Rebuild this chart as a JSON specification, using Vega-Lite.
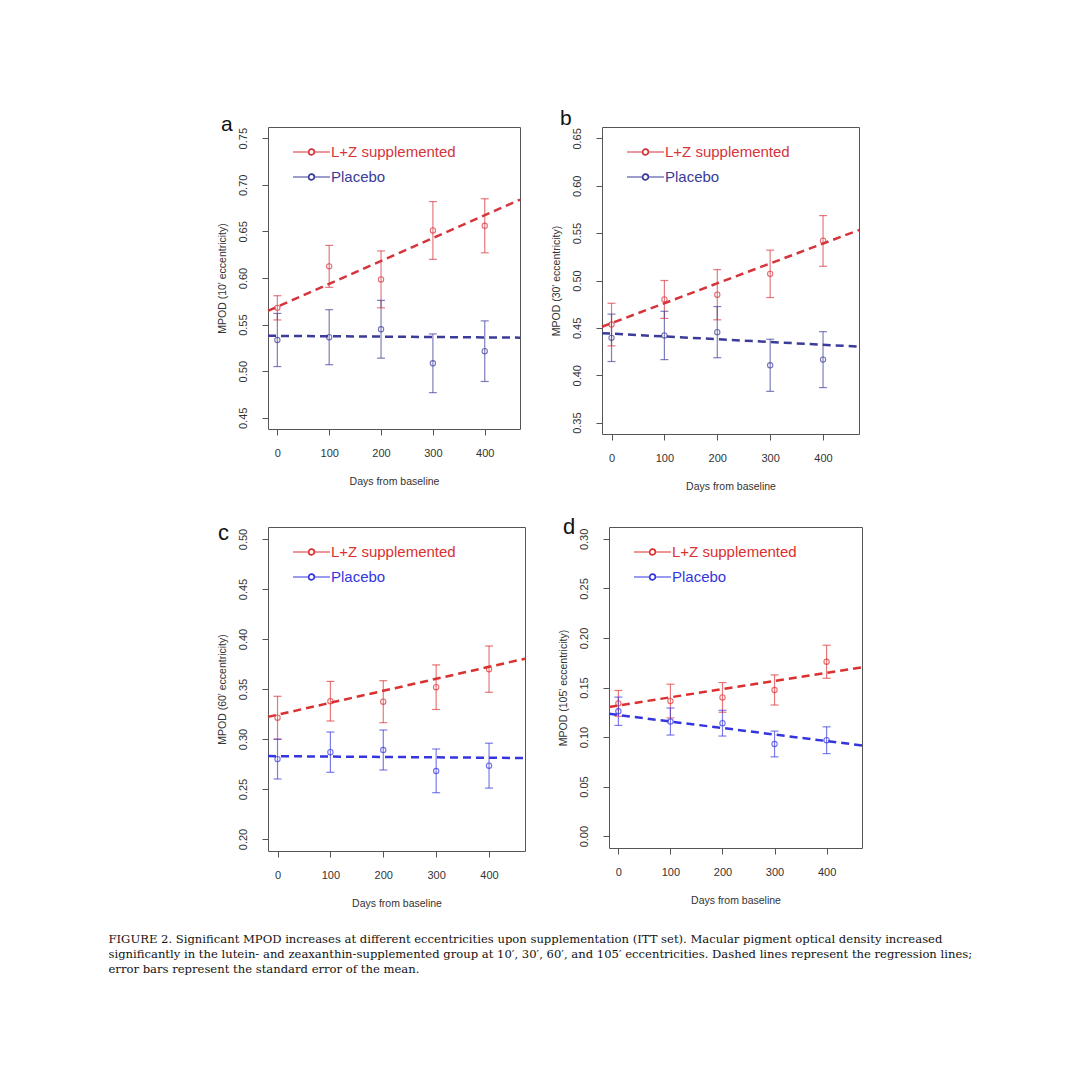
{
  "$schema": "https://vega.github.io/schema/vega-lite/v6.json",
  "background": "white",
  "padding": {"left": 108, "top": 107, "right": 10, "bottom": 10},
  "datasets": {
    "pts": [
      {"panel": "a", "group": "L+Z supplemented", "day": 0, "mean": 0.568, "lo": 0.555, "hi": 0.581},
      {"panel": "a", "group": "L+Z supplemented", "day": 100, "mean": 0.6125, "lo": 0.590, "hi": 0.635},
      {"panel": "a", "group": "L+Z supplemented", "day": 200, "mean": 0.5985, "lo": 0.568, "hi": 0.629},
      {"panel": "a", "group": "L+Z supplemented", "day": 300, "mean": 0.651, "lo": 0.620, "hi": 0.682},
      {"panel": "a", "group": "L+Z supplemented", "day": 400, "mean": 0.656, "lo": 0.627, "hi": 0.685},
      {"panel": "a", "group": "Placebo", "day": 0, "mean": 0.5335, "lo": 0.505, "hi": 0.562},
      {"panel": "a", "group": "Placebo", "day": 100, "mean": 0.5365, "lo": 0.507, "hi": 0.566},
      {"panel": "a", "group": "Placebo", "day": 200, "mean": 0.545, "lo": 0.514, "hi": 0.576},
      {"panel": "a", "group": "Placebo", "day": 300, "mean": 0.5085, "lo": 0.477, "hi": 0.540},
      {"panel": "a", "group": "Placebo", "day": 400, "mean": 0.5215, "lo": 0.489, "hi": 0.554},
      {"panel": "b", "group": "L+Z supplemented", "day": 0, "mean": 0.4535, "lo": 0.431, "hi": 0.476},
      {"panel": "b", "group": "L+Z supplemented", "day": 100, "mean": 0.480, "lo": 0.460, "hi": 0.500},
      {"panel": "b", "group": "L+Z supplemented", "day": 200, "mean": 0.485, "lo": 0.4585, "hi": 0.5115},
      {"panel": "b", "group": "L+Z supplemented", "day": 300, "mean": 0.507, "lo": 0.482, "hi": 0.532},
      {"panel": "b", "group": "L+Z supplemented", "day": 400, "mean": 0.542, "lo": 0.515, "hi": 0.5685},
      {"panel": "b", "group": "Placebo", "day": 0, "mean": 0.4395, "lo": 0.4145, "hi": 0.4645},
      {"panel": "b", "group": "Placebo", "day": 100, "mean": 0.442, "lo": 0.4165, "hi": 0.4675},
      {"panel": "b", "group": "Placebo", "day": 200, "mean": 0.4455, "lo": 0.4185, "hi": 0.4725},
      {"panel": "b", "group": "Placebo", "day": 300, "mean": 0.4105, "lo": 0.383, "hi": 0.438},
      {"panel": "b", "group": "Placebo", "day": 400, "mean": 0.4165, "lo": 0.387, "hi": 0.446},
      {"panel": "c", "group": "L+Z supplemented", "day": 0, "mean": 0.3213, "lo": 0.2998, "hi": 0.3427},
      {"panel": "c", "group": "L+Z supplemented", "day": 100, "mean": 0.3378, "lo": 0.318, "hi": 0.3576},
      {"panel": "c", "group": "L+Z supplemented", "day": 200, "mean": 0.3373, "lo": 0.3163, "hi": 0.3583},
      {"panel": "c", "group": "L+Z supplemented", "day": 300, "mean": 0.3518, "lo": 0.3295, "hi": 0.3741},
      {"panel": "c", "group": "L+Z supplemented", "day": 400, "mean": 0.3698, "lo": 0.3467, "hi": 0.393},
      {"panel": "c", "group": "Placebo", "day": 0, "mean": 0.2799, "lo": 0.260, "hi": 0.2998},
      {"panel": "c", "group": "Placebo", "day": 100, "mean": 0.2868, "lo": 0.2667, "hi": 0.307},
      {"panel": "c", "group": "Placebo", "day": 200, "mean": 0.289, "lo": 0.269, "hi": 0.309},
      {"panel": "c", "group": "Placebo", "day": 300, "mean": 0.268, "lo": 0.2463, "hi": 0.290},
      {"panel": "c", "group": "Placebo", "day": 400, "mean": 0.2733, "lo": 0.2509, "hi": 0.2958},
      {"panel": "d", "group": "L+Z supplemented", "day": 0, "mean": 0.134, "lo": 0.121, "hi": 0.147},
      {"panel": "d", "group": "L+Z supplemented", "day": 100, "mean": 0.1363, "lo": 0.1193, "hi": 0.1533},
      {"panel": "d", "group": "L+Z supplemented", "day": 200, "mean": 0.140, "lo": 0.125, "hi": 0.155},
      {"panel": "d", "group": "L+Z supplemented", "day": 300, "mean": 0.1475, "lo": 0.1323, "hi": 0.1627},
      {"panel": "d", "group": "L+Z supplemented", "day": 400, "mean": 0.176, "lo": 0.1593, "hi": 0.1927},
      {"panel": "d", "group": "Placebo", "day": 0, "mean": 0.126, "lo": 0.1117, "hi": 0.1403},
      {"panel": "d", "group": "Placebo", "day": 100, "mean": 0.1157, "lo": 0.102, "hi": 0.1293},
      {"panel": "d", "group": "Placebo", "day": 200, "mean": 0.114, "lo": 0.101, "hi": 0.127},
      {"panel": "d", "group": "Placebo", "day": 300, "mean": 0.093, "lo": 0.080, "hi": 0.106},
      {"panel": "d", "group": "Placebo", "day": 400, "mean": 0.0968, "lo": 0.0833, "hi": 0.1103}
    ],
    "lines": [
      {"panel": "a", "group": "L+Z supplemented", "day": -18, "value": 0.5647},
      {"panel": "a", "group": "L+Z supplemented", "day": 468, "value": 0.684},
      {"panel": "a", "group": "Placebo", "day": -18, "value": 0.538},
      {"panel": "a", "group": "Placebo", "day": 468, "value": 0.536},
      {"panel": "b", "group": "L+Z supplemented", "day": -18, "value": 0.4512},
      {"panel": "b", "group": "L+Z supplemented", "day": 468, "value": 0.5533},
      {"panel": "b", "group": "Placebo", "day": -18, "value": 0.4444},
      {"panel": "b", "group": "Placebo", "day": 468, "value": 0.4302},
      {"panel": "c", "group": "L+Z supplemented", "day": -18, "value": 0.3221},
      {"panel": "c", "group": "L+Z supplemented", "day": 468, "value": 0.3803},
      {"panel": "c", "group": "Placebo", "day": -18, "value": 0.2829},
      {"panel": "c", "group": "Placebo", "day": 468, "value": 0.281},
      {"panel": "d", "group": "L+Z supplemented", "day": -18, "value": 0.1304},
      {"panel": "d", "group": "L+Z supplemented", "day": 468, "value": 0.1704},
      {"panel": "d", "group": "Placebo", "day": -18, "value": 0.1234},
      {"panel": "d", "group": "Placebo", "day": 468, "value": 0.0915}
    ]
  },
  "config": {
    "font": "Liberation Sans",
    "view": {"stroke": "#555", "strokeWidth": 1},
    "axis": {"domain": false, "grid": false, "ticks": true, "tickSize": 6, "tickColor": "#555", "labelFont": "Liberation Sans", "labelFontSize": 11, "labelColor": "#333", "titleFont": "Liberation Sans", "titleFontSize": 10.5, "titleFontWeight": "normal", "titleColor": "#333"},
    "axisX": {"labelPadding": 12, "titlePadding": 18},
    "axisY": {"labelAngle": 270, "labelAlign": "center", "labelBaseline": "bottom", "labelPadding": 14, "titlePadding": 10},
    "legend": {"orient": "top-left", "offset": 15, "padding": 0, "symbolType": "M0,0L1.66,0M2.34,0L4,0M2.34,0A0.34,0.34,0,1,1,1.66,0A0.34,0.34,0,1,1,2.34,0M2.28,0A0.28,0.28,0,1,0,1.72,0A0.28,0.28,0,1,0,2.28,0", "symbolSize": 342, "symbolStrokeWidth": 1.1, "symbolOpacity": 1, "symbolFillColor": "white", "symbolDash": [], "labelFont": "Liberation Sans", "labelFontSize": 15, "labelOffset": 28, "rowPadding": 7},
    "title": {"font": "Liberation Sans", "fontWeight": "normal"}
  },
  "title": {
    "text": [
      "FIGURE 2.  Significant MPOD increases at different eccentricities upon supplementation (ITT set). Macular pigment optical density increased",
      "significantly in the lutein- and zeaxanthin-supplemented group at 10′, 30′, 60′, and 105′ eccentricities. Dashed lines represent the regression lines;",
      "error bars represent the standard error of the mean."
    ],
    "orient": "bottom", "anchor": "start", "frame": "bounds", "dx": -108, "offset": 25,
    "font": "DejaVu Serif", "fontSize": 11.6, "fontWeight": "normal", "lineHeight": 15, "color": "#111"
  },
  "vconcat": [
    {
      "hconcat": [
        {
          "width": 252, "height": 302,
          "title": {"text": "a", "anchor": "start", "frame": "group", "dx": -47, "offset": -25, "baseline": "alphabetic", "fontSize": 21, "color": "#111"},
          "layer": [
            {"data": {"name": "pts"}, "transform": [{"filter": "datum.panel == 'a'"}], "mark": {"type": "rule", "strokeWidth": 1.2, "opacity": 0.65},
             "encoding": {
               "x": {"field": "day", "type": "quantitative", "scale": {"domain": [-18, 468], "nice": false, "zero": false}, "axis": {"values": [0, 100, 200, 300, 400], "title": "Days from baseline"}},
               "y": {"field": "lo", "type": "quantitative", "scale": {"domain": [0.438, 0.762], "nice": false, "zero": false}, "axis": {"values": [0.45, 0.5, 0.55, 0.6, 0.65, 0.7, 0.75], "format": ".2f", "title": "MPOD (10' eccentricity)"}},
               "y2": {"field": "hi"},
               "color": {"field": "group", "type": "nominal", "scale": {"domain": ["L+Z supplemented", "Placebo"], "range": ["#d6333b", "#3b3b9a"]}}}},
            {"data": {"name": "pts"}, "transform": [{"filter": "datum.panel == 'a'"}], "mark": {"type": "tick", "orient": "horizontal", "size": 8, "thickness": 1.2, "opacity": 0.65},
             "encoding": {"x": {"field": "day", "type": "quantitative", "title": "Days from baseline"}, "y": {"field": "lo", "type": "quantitative", "title": "MPOD (10' eccentricity)"}, "color": {"field": "group", "type": "nominal"}}},
            {"data": {"name": "pts"}, "transform": [{"filter": "datum.panel == 'a'"}], "mark": {"type": "tick", "orient": "horizontal", "size": 8, "thickness": 1.2, "opacity": 0.65},
             "encoding": {"x": {"field": "day", "type": "quantitative", "title": "Days from baseline"}, "y": {"field": "hi", "type": "quantitative", "title": "MPOD (10' eccentricity)"}, "color": {"field": "group", "type": "nominal"}}},
            {"data": {"name": "lines"}, "transform": [{"filter": "datum.panel == 'a'"}], "mark": {"type": "line", "strokeDash": [8, 5], "strokeWidth": 2.5},
             "encoding": {"x": {"field": "day", "type": "quantitative", "title": "Days from baseline"}, "y": {"field": "value", "type": "quantitative", "title": "MPOD (10' eccentricity)"}, "color": {"field": "group", "type": "nominal"}}},
            {"data": {"name": "pts"}, "transform": [{"filter": "datum.panel == 'a'"}], "mark": {"type": "point", "shape": "circle", "filled": false, "size": 28, "strokeWidth": 1.1},
             "encoding": {"x": {"field": "day", "type": "quantitative", "title": "Days from baseline"}, "y": {"field": "mean", "type": "quantitative", "title": "MPOD (10' eccentricity)"},
               "color": {"field": "group", "type": "nominal", "legend": {"title": null, "labelColor": {"expr": "datum.value == 'Placebo' ? '#3b3b9a' : '#d6333b'"}}}}}
          ]
        },
        {
          "width": 257, "height": 307,
          "title": {"text": "b", "anchor": "start", "frame": "group", "dx": -42, "offset": -19, "baseline": "alphabetic", "fontSize": 21, "color": "#111"},
          "layer": [
            {"data": {"name": "pts"}, "transform": [{"filter": "datum.panel == 'b'"}], "mark": {"type": "rule", "strokeWidth": 1.2, "opacity": 0.65},
             "encoding": {
               "x": {"field": "day", "type": "quantitative", "scale": {"domain": [-18, 468], "nice": false, "zero": false}, "axis": {"values": [0, 100, 200, 300, 400], "title": "Days from baseline"}},
               "y": {"field": "lo", "type": "quantitative", "scale": {"domain": [0.338, 0.662], "nice": false, "zero": false}, "axis": {"values": [0.35, 0.4, 0.45, 0.5, 0.55, 0.6, 0.65], "format": ".2f", "title": "MPOD (30' eccentricity)"}},
               "y2": {"field": "hi"},
               "color": {"field": "group", "type": "nominal", "scale": {"domain": ["L+Z supplemented", "Placebo"], "range": ["#d6333b", "#3b3b9a"]}}}},
            {"data": {"name": "pts"}, "transform": [{"filter": "datum.panel == 'b'"}], "mark": {"type": "tick", "orient": "horizontal", "size": 8, "thickness": 1.2, "opacity": 0.65},
             "encoding": {"x": {"field": "day", "type": "quantitative", "title": "Days from baseline"}, "y": {"field": "lo", "type": "quantitative", "title": "MPOD (30' eccentricity)"}, "color": {"field": "group", "type": "nominal"}}},
            {"data": {"name": "pts"}, "transform": [{"filter": "datum.panel == 'b'"}], "mark": {"type": "tick", "orient": "horizontal", "size": 8, "thickness": 1.2, "opacity": 0.65},
             "encoding": {"x": {"field": "day", "type": "quantitative", "title": "Days from baseline"}, "y": {"field": "hi", "type": "quantitative", "title": "MPOD (30' eccentricity)"}, "color": {"field": "group", "type": "nominal"}}},
            {"data": {"name": "lines"}, "transform": [{"filter": "datum.panel == 'b'"}], "mark": {"type": "line", "strokeDash": [8, 5], "strokeWidth": 2.5},
             "encoding": {"x": {"field": "day", "type": "quantitative", "title": "Days from baseline"}, "y": {"field": "value", "type": "quantitative", "title": "MPOD (30' eccentricity)"}, "color": {"field": "group", "type": "nominal"}}},
            {"data": {"name": "pts"}, "transform": [{"filter": "datum.panel == 'b'"}], "mark": {"type": "point", "shape": "circle", "filled": false, "size": 28, "strokeWidth": 1.1},
             "encoding": {"x": {"field": "day", "type": "quantitative", "title": "Days from baseline"}, "y": {"field": "mean", "type": "quantitative", "title": "MPOD (30' eccentricity)"},
               "color": {"field": "group", "type": "nominal", "legend": {"title": null, "labelColor": {"expr": "datum.value == 'Placebo' ? '#3b3b9a' : '#d6333b'"}}}}}
          ]
        }
      ],
      "spacing": 24,
      "resolve": {"scale": {"x": "independent", "y": "independent", "color": "independent"}, "legend": {"color": "independent"}}
    },
    {
      "hconcat": [
        {
          "width": 257, "height": 324,
          "title": {"text": "c", "anchor": "start", "frame": "group", "dx": -50, "offset": -35, "baseline": "alphabetic", "fontSize": 22, "color": "#111"},
          "layer": [
            {"data": {"name": "pts"}, "transform": [{"filter": "datum.panel == 'c'"}], "mark": {"type": "rule", "strokeWidth": 1.2, "opacity": 0.65},
             "encoding": {
               "x": {"field": "day", "type": "quantitative", "scale": {"domain": [-18, 468], "nice": false, "zero": false}, "axis": {"values": [0, 100, 200, 300, 400], "title": "Days from baseline"}},
               "y": {"field": "lo", "type": "quantitative", "scale": {"domain": [0.188, 0.512], "nice": false, "zero": false}, "axis": {"values": [0.2, 0.25, 0.3, 0.35, 0.4, 0.45, 0.5], "format": ".2f", "title": "MPOD (60' eccentricity)"}},
               "y2": {"field": "hi"},
               "color": {"field": "group", "type": "nominal", "scale": {"domain": ["L+Z supplemented", "Placebo"], "range": ["#db3030", "#3535e0"]}}}},
            {"data": {"name": "pts"}, "transform": [{"filter": "datum.panel == 'c'"}], "mark": {"type": "tick", "orient": "horizontal", "size": 8, "thickness": 1.2, "opacity": 0.65},
             "encoding": {"x": {"field": "day", "type": "quantitative", "title": "Days from baseline"}, "y": {"field": "lo", "type": "quantitative", "title": "MPOD (60' eccentricity)"}, "color": {"field": "group", "type": "nominal"}}},
            {"data": {"name": "pts"}, "transform": [{"filter": "datum.panel == 'c'"}], "mark": {"type": "tick", "orient": "horizontal", "size": 8, "thickness": 1.2, "opacity": 0.65},
             "encoding": {"x": {"field": "day", "type": "quantitative", "title": "Days from baseline"}, "y": {"field": "hi", "type": "quantitative", "title": "MPOD (60' eccentricity)"}, "color": {"field": "group", "type": "nominal"}}},
            {"data": {"name": "lines"}, "transform": [{"filter": "datum.panel == 'c'"}], "mark": {"type": "line", "strokeDash": [8, 5], "strokeWidth": 2.5},
             "encoding": {"x": {"field": "day", "type": "quantitative", "title": "Days from baseline"}, "y": {"field": "value", "type": "quantitative", "title": "MPOD (60' eccentricity)"}, "color": {"field": "group", "type": "nominal"}}},
            {"data": {"name": "pts"}, "transform": [{"filter": "datum.panel == 'c'"}], "mark": {"type": "point", "shape": "circle", "filled": false, "size": 28, "strokeWidth": 1.1},
             "encoding": {"x": {"field": "day", "type": "quantitative", "title": "Days from baseline"}, "y": {"field": "mean", "type": "quantitative", "title": "MPOD (60' eccentricity)"},
               "color": {"field": "group", "type": "nominal", "legend": {"title": null, "labelColor": {"expr": "datum.value == 'Placebo' ? '#3535e0' : '#db3030'"}}}}}
          ]
        },
        {
          "width": 253, "height": 321,
          "title": {"text": "d", "anchor": "start", "frame": "group", "dx": -46, "offset": -29, "baseline": "alphabetic", "fontSize": 22, "color": "#111"},
          "layer": [
            {"data": {"name": "pts"}, "transform": [{"filter": "datum.panel == 'd'"}], "mark": {"type": "rule", "strokeWidth": 1.2, "opacity": 0.65},
             "encoding": {
               "x": {"field": "day", "type": "quantitative", "scale": {"domain": [-18, 468], "nice": false, "zero": false}, "axis": {"values": [0, 100, 200, 300, 400], "title": "Days from baseline"}},
               "y": {"field": "lo", "type": "quantitative", "scale": {"domain": [-0.012, 0.312], "nice": false, "zero": false}, "axis": {"values": [0, 0.05, 0.1, 0.15, 0.2, 0.25, 0.3], "format": ".2f", "title": "MPOD (105' eccentricity)"}},
               "y2": {"field": "hi"},
               "color": {"field": "group", "type": "nominal", "scale": {"domain": ["L+Z supplemented", "Placebo"], "range": ["#db3030", "#3535e0"]}}}},
            {"data": {"name": "pts"}, "transform": [{"filter": "datum.panel == 'd'"}], "mark": {"type": "tick", "orient": "horizontal", "size": 8, "thickness": 1.2, "opacity": 0.65},
             "encoding": {"x": {"field": "day", "type": "quantitative", "title": "Days from baseline"}, "y": {"field": "lo", "type": "quantitative", "title": "MPOD (105' eccentricity)"}, "color": {"field": "group", "type": "nominal"}}},
            {"data": {"name": "pts"}, "transform": [{"filter": "datum.panel == 'd'"}], "mark": {"type": "tick", "orient": "horizontal", "size": 8, "thickness": 1.2, "opacity": 0.65},
             "encoding": {"x": {"field": "day", "type": "quantitative", "title": "Days from baseline"}, "y": {"field": "hi", "type": "quantitative", "title": "MPOD (105' eccentricity)"}, "color": {"field": "group", "type": "nominal"}}},
            {"data": {"name": "lines"}, "transform": [{"filter": "datum.panel == 'd'"}], "mark": {"type": "line", "strokeDash": [8, 5], "strokeWidth": 2.5},
             "encoding": {"x": {"field": "day", "type": "quantitative", "title": "Days from baseline"}, "y": {"field": "value", "type": "quantitative", "title": "MPOD (105' eccentricity)"}, "color": {"field": "group", "type": "nominal"}}},
            {"data": {"name": "pts"}, "transform": [{"filter": "datum.panel == 'd'"}], "mark": {"type": "point", "shape": "circle", "filled": false, "size": 28, "strokeWidth": 1.1},
             "encoding": {"x": {"field": "day", "type": "quantitative", "title": "Days from baseline"}, "y": {"field": "mean", "type": "quantitative", "title": "MPOD (105' eccentricity)"},
               "color": {"field": "group", "type": "nominal", "legend": {"title": null, "labelColor": {"expr": "datum.value == 'Placebo' ? '#3535e0' : '#db3030'"}}}}}
          ]
        }
      ],
      "spacing": 26,
      "resolve": {"scale": {"x": "independent", "y": "independent", "color": "independent"}, "legend": {"color": "independent"}}
    }
  ],
  "spacing": 23,
  "resolve": {"scale": {"x": "independent", "y": "independent", "color": "independent"}, "legend": {"color": "independent"}}
}
